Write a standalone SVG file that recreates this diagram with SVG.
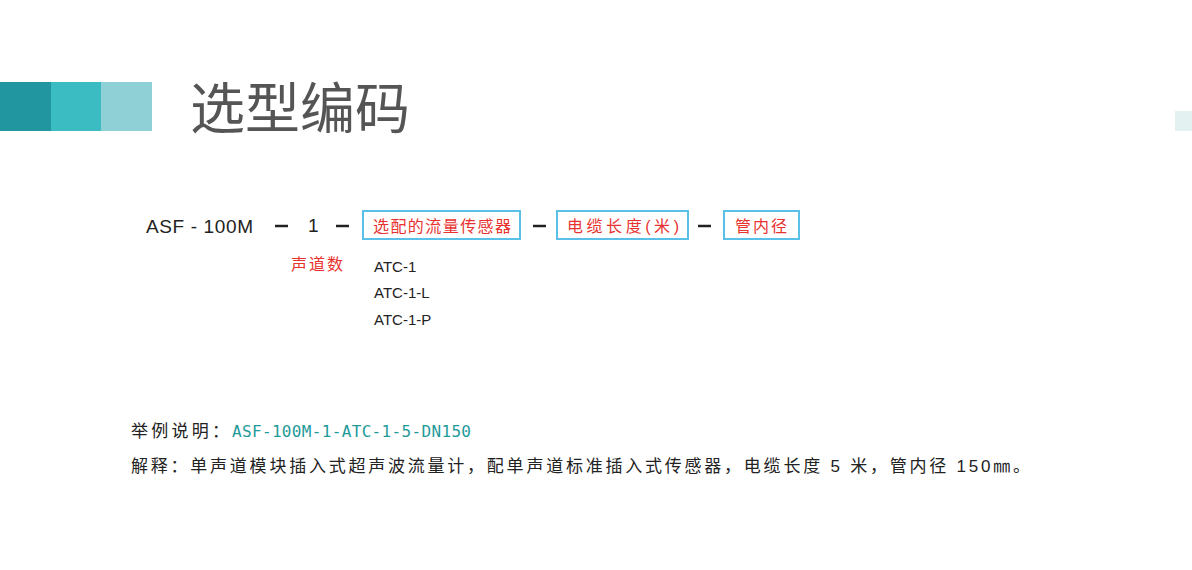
<svg xmlns="http://www.w3.org/2000/svg" width="1192" height="570" viewBox="0 0 1192 570">
<style>
.s{font-family:"Liberation Sans","Noto Sans CJK SC",sans-serif}
.r{fill:#e8322f;font-size:16px}
.b{fill:none;stroke:#5bc0e8;stroke-width:2}
.k{fill:#222}
.d{stroke:#222;stroke-width:2.5}
</style>
<rect width="1192" height="570" fill="#fff"/>
<g id="header">
<rect x="0" y="82" width="51" height="49" fill="#2196a0"/>
<rect x="51" y="82" width="50" height="49" fill="#3bbcc2"/>
<rect x="101" y="82" width="51" height="49" fill="#8ed0d6"/>
<rect x="1175" y="111" width="17" height="20" fill="#e3f1f0"/>
<text x="190" y="128" class="s" font-size="55" fill="#555">选型编码</text>
</g>
<g id="connectors">
<line x1="275" y1="226" x2="288" y2="226" class="d"/>
<line x1="336" y1="226" x2="349" y2="226" class="d"/>
<line x1="533" y1="226" x2="546" y2="226" class="d"/>
<line x1="698" y1="226" x2="711" y2="226" class="d"/>
</g>
<g id="model"><text x="146" y="233" class="s k" font-size="19" textLength="107">ASF - 100M</text></g>
<g id="channels"><text x="308" y="232" class="s k" font-size="19">1</text>
<text x="291" y="270" class="s r" textLength="52">声道数</text></g>
<g id="sensor"><rect x="363" y="211" width="157" height="28" class="b"/>
<text x="373" y="232" class="s r" textLength="138">选配的流量传感器</text>
<text x="374" y="272" class="s k" font-size="15">ATC-1</text>
<text x="374" y="298" class="s k" font-size="15">ATC-1-L</text>
<text x="374" y="325" class="s k" font-size="15">ATC-1-P</text></g>
<g id="cable"><rect x="557" y="211" width="131" height="28" class="b"/>
<text x="567" y="232" class="s r" textLength="112">电缆长度(米)</text></g>
<g id="pipe"><rect x="724" y="211" width="75" height="28" class="b"/>
<text x="735" y="232" class="s r" textLength="52">管内径</text></g>
<g id="notes">
<text x="131" y="437" class="s k" font-size="17" textLength="98">举例说明：</text>
<text x="232" y="437" font-family="'DejaVu Sans Mono',monospace" fill="#1f9a9a" font-size="16" textLength="239">ASF-100M-1-ATC-1-5-DN150</text>
<text x="131" y="472" class="s k" font-size="17" textLength="899">解释：单声道模块插入式超声波流量计，配单声道标准插入式传感器，电缆长度 5 米，管内径 150㎜。</text>
</g>
</svg>
